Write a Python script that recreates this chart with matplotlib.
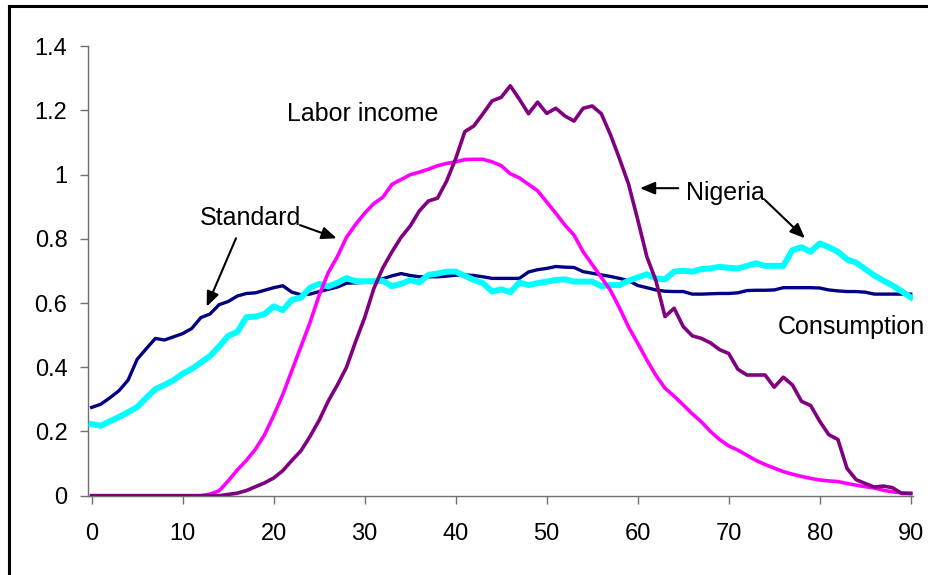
import matplotlib
matplotlib.use("Agg")
import matplotlib.pyplot as plt
from matplotlib.lines import Line2D

plt.rcParams['font.family'] = ['Liberation Sans', 'DejaVu Sans']

ages = list(range(0, 91))

cons_standard = [
    0.275, 0.285, 0.305, 0.327, 0.360, 0.425, 0.458, 0.490, 0.485, 0.495,
    0.505, 0.521, 0.555, 0.566, 0.595, 0.605, 0.622, 0.630, 0.632, 0.640,
    0.648, 0.654, 0.634, 0.626, 0.628, 0.636, 0.643, 0.650, 0.662, 0.663,
    0.665, 0.667, 0.676, 0.685, 0.692, 0.686, 0.682, 0.682, 0.682, 0.684,
    0.687, 0.688, 0.686, 0.682, 0.677, 0.677, 0.677, 0.677, 0.697, 0.704,
    0.708, 0.714, 0.712, 0.711, 0.698, 0.693, 0.688, 0.683, 0.677, 0.670,
    0.655, 0.648, 0.641, 0.637, 0.636, 0.636, 0.628, 0.628, 0.629, 0.630,
    0.630, 0.632, 0.639, 0.640, 0.640, 0.641, 0.648, 0.648, 0.648, 0.648,
    0.647, 0.641, 0.638, 0.636, 0.636, 0.634, 0.628, 0.628, 0.628, 0.628,
    0.628]

cons_nigeria = [
    0.223, 0.218, 0.232, 0.245, 0.260, 0.276, 0.305, 0.332, 0.345, 0.360,
    0.380, 0.395, 0.415, 0.435, 0.465, 0.498, 0.510, 0.556, 0.558, 0.566,
    0.590, 0.578, 0.610, 0.617, 0.648, 0.660, 0.652, 0.663, 0.678, 0.668,
    0.668, 0.668, 0.669, 0.653, 0.660, 0.672, 0.664, 0.688, 0.692, 0.698,
    0.698, 0.685, 0.672, 0.662, 0.636, 0.643, 0.634, 0.664, 0.656, 0.662,
    0.667, 0.672, 0.674, 0.667, 0.667, 0.667, 0.653, 0.656, 0.656, 0.670,
    0.680, 0.690, 0.677, 0.674, 0.698, 0.701, 0.698, 0.706, 0.708, 0.713,
    0.710, 0.708, 0.716, 0.724, 0.716, 0.716, 0.716, 0.765, 0.774, 0.760,
    0.786, 0.774, 0.760, 0.736, 0.726, 0.706, 0.686, 0.670, 0.655, 0.637,
    0.618]

labor_standard = [
    0, 0, 0, 0, 0, 0, 0, 0, 0, 0,
    0, 0, 0, 0.005, 0.015, 0.046, 0.080, 0.110, 0.145, 0.190,
    0.250, 0.315, 0.390, 0.465, 0.540, 0.625, 0.695, 0.745, 0.805, 0.845,
    0.880, 0.910, 0.930, 0.970, 0.985, 1.000, 1.008, 1.017, 1.028, 1.035,
    1.040, 1.047, 1.048, 1.048, 1.040, 1.028, 1.003, 0.990, 0.970, 0.950,
    0.915, 0.880, 0.843, 0.812, 0.760, 0.720, 0.680, 0.640, 0.585, 0.525,
    0.475, 0.423, 0.375, 0.335, 0.310, 0.283, 0.255, 0.230, 0.200, 0.175,
    0.155, 0.142, 0.126, 0.110, 0.097, 0.086, 0.075, 0.067, 0.060, 0.054,
    0.049, 0.046, 0.044, 0.038, 0.033, 0.028, 0.024, 0.017, 0.012, 0.009,
    0.007]

labor_nigeria = [
    0, 0, 0, 0, 0, 0, 0, 0, 0, 0,
    0, 0, 0, 0, 0, 0.004, 0.008, 0.016, 0.028, 0.040,
    0.055, 0.078, 0.110, 0.140, 0.185, 0.235, 0.295, 0.345, 0.400, 0.480,
    0.555, 0.645, 0.710, 0.760, 0.805, 0.840, 0.887, 0.918, 0.927, 0.980,
    1.050, 1.134, 1.152, 1.190, 1.230, 1.241, 1.277, 1.235, 1.190, 1.226,
    1.191, 1.207, 1.183, 1.167, 1.207, 1.214, 1.190, 1.125, 1.050, 0.970,
    0.860, 0.745, 0.670, 0.558, 0.584, 0.527, 0.498, 0.490, 0.476, 0.455,
    0.443, 0.394, 0.376, 0.376, 0.376, 0.338, 0.369, 0.345, 0.294, 0.281,
    0.232, 0.190, 0.175, 0.085, 0.050, 0.038, 0.027, 0.030, 0.025, 0.007,
    0.007]

x_ticks = [0, 10, 20, 30, 40, 50, 60, 70, 80, 90]
y_ticks = [0, 0.2, 0.4, 0.6, 0.8, 1.0, 1.2, 1.4]
y_tick_labels = ["0", "0.2", "0.4", "0.6", "0.8", "1", "1.2", "1.4"]

W, H = 929, 575
fig = plt.figure(figsize=(W / 100, H / 100), dpi=100)
ax = fig.add_axes([88.3 / W, 1 - 495.7 / H, (913 - 88.3) / W, (495.7 - 46.3) / H])

ax.plot(ages, cons_standard, color='#000080', lw=2.4, zorder=3)
ax.plot(ages, cons_nigeria, color='#00FFFF', lw=4.3, zorder=4)
ax.plot(ages, labor_standard, color='#FF00FF', lw=2.6, zorder=5)
ax.plot(ages, labor_nigeria, color='#800080', lw=2.6, zorder=6)

ax.set_xlim(-0.37, 90.25)
ax.set_ylim(0, 1.4)
ax.set_xticks(x_ticks)
ax.set_xticklabels([str(t) for t in x_ticks])
ax.set_yticks(y_ticks)
ax.set_yticklabels(y_tick_labels)

for s in ['top', 'right']:
    ax.spines[s].set_visible(False)
for s in ['left', 'bottom']:
    ax.spines[s].set_color('#707070')
    ax.spines[s].set_linewidth(1.0)
ax.tick_params(axis='both', direction='out', length=6, width=1.0, color='#707070',
               labelsize=17, labelcolor='black')
ax.tick_params(axis='x', pad=14)
ax.tick_params(axis='y', pad=9)

fs = 18
ax.text(29.76, 1.189, "Labor income", fontsize=fs, ha='center', va='center')
ax.text(17.45, 0.865, "Standard", fontsize=fs, ha='center', va='center')
ax.text(69.65, 0.943, "Nigeria", fontsize=fs, ha='center', va='center')
ax.text(83.44, 0.526, "Consumption", fontsize=fs, ha='center', va='center')

arrow_style = dict(arrowstyle='-|>,head_length=0.6,head_width=0.25', color='black',
                   lw=1.5, mutation_scale=15, shrinkA=0, shrinkB=0)
ax.annotate("", xy=(12.64, 0.589), xytext=(15.86, 0.802), arrowprops=arrow_style)
ax.annotate("", xy=(26.92, 0.802), xytext=(22.89, 0.843), arrowprops=arrow_style)
ax.annotate("", xy=(60.25, 0.958), xytext=(64.46, 0.958), arrowprops=arrow_style)
ax.annotate("", xy=(78.38, 0.802), xytext=(73.99, 0.921), arrowprops=arrow_style)

# outer frame lines (top and left)
fig.add_artist(Line2D([9 / W, 1.0], [1 - 5.7 / H, 1 - 5.7 / H], color='black', lw=2.2,
                      transform=fig.transFigure))
fig.add_artist(Line2D([9 / W, 9 / W], [0, 1 - 5.7 / H], color='black', lw=2.2,
                      transform=fig.transFigure))

fig.savefig("out.png", dpi=100)
